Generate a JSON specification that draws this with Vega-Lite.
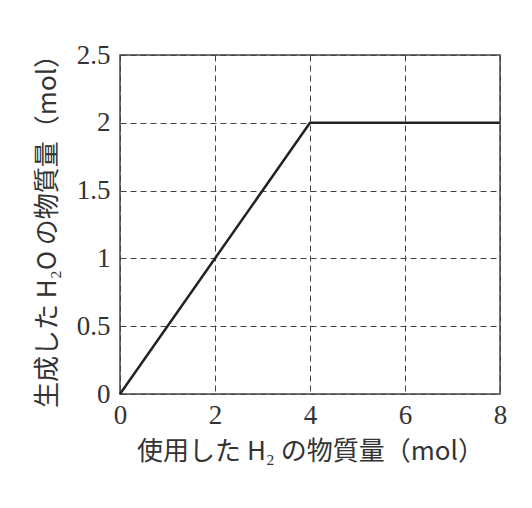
{
  "$schema": "https://vega.github.io/schema/vega-lite/v6.json",
  "autosize": {"type": "none"},
  "padding": {"left": 120, "top": 55, "right": 32, "bottom": 114},
  "width": 380,
  "height": 339,
  "background": "white",
  "data": {
    "values": [
      {"h2": 0, "h2o": 0},
      {"h2": 4, "h2o": 2},
      {"h2": 8, "h2o": 2}
    ]
  },
  "mark": {"type": "line", "color": "#222", "strokeWidth": 2.5},
  "encoding": {
    "x": {
      "field": "h2", "type": "quantitative",
      "scale": {"domain": [0, 8], "nice": false},
      "axis": {"values": [0, 2, 4, 6, 8], "format": "~g", "labelPadding": 8, "titlePadding": 10, "title": "使用した H₂ の物質量（mol）"}
    },
    "y": {
      "field": "h2o", "type": "quantitative",
      "scale": {"domain": [0, 2.5], "nice": false},
      "axis": {"values": [0, 0.5, 1, 1.5, 2, 2.5], "format": "~g", "labelPadding": 10, "titlePadding": 16, "title": "生成した H₂O の物質量（mol）"}
    }
  },
  "config": {
    "view": {"stroke": "#444", "strokeWidth": 1.5},
    "axis": {
      "domain": false,
      "ticks": false,
      "grid": true,
      "gridColor": "#444",
      "gridDash": [6, 4],
      "gridWidth": 1,
      "gridOpacity": 1,
      "labelFlush": false,
      "labelFont": "Liberation Serif",
      "labelFontSize": 27,
      "labelColor": "#333",
      "titleFont": "Noto Sans CJK JP",
      "titleFontSize": 26,
      "titleFontWeight": "normal",
      "titleColor": "#333"
    }
  }
}
